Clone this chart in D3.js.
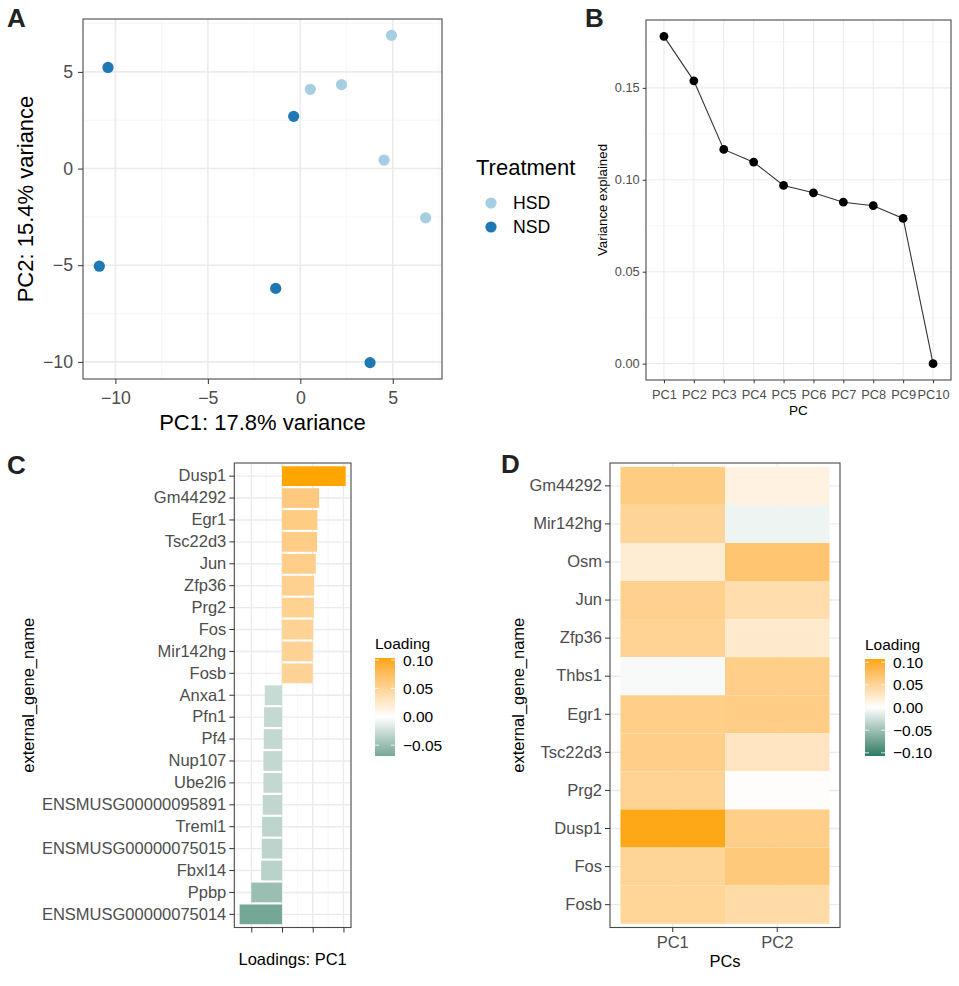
<!DOCTYPE html>
<html>
<head>
<meta charset="utf-8">
<script src="https://cdn.jsdelivr.net/npm/d3@7"></script>
<style>
  body { margin: 0; background: #ffffff; }
  svg { display: block; font-family: "Liberation Sans", Arial, Helvetica, sans-serif; }
</style>
</head>
<body>
<svg id="chart" width="959" height="986"></svg>
<script>
// ---------------- DATA ----------------
// Panel A: PCA scores
const pcaPC1 = [-10.40, 0.54, 2.23, 4.93, -0.36, 4.53, 6.78, -10.87, -1.33, 3.77];
const pcaPC2 = [5.23, 4.10, 4.34, 6.89, 2.70, 0.44, -2.55, -5.05, -6.20, -10.04];
const pcaTreatment = ["NSD", "HSD", "HSD", "HSD", "NSD", "HSD", "HSD", "NSD", "NSD", "NSD"];
const treatmentLevels = ["HSD", "NSD"];
const treatmentColors = ["#a6cee3", "#1f78b4"];
const pcaTicks = [-10, -5, 0, 5];

// Panel B: scree plot
const pcLabels = ["PC1", "PC2", "PC3", "PC4", "PC5", "PC6", "PC7", "PC8", "PC9", "PC10"];
const varianceExplained = [0.178, 0.1538, 0.1165, 0.1096, 0.0969, 0.0929, 0.0878, 0.0859, 0.079, 0.0];
const varianceTicks = [0, 0.05, 0.10, 0.15];

// Panel C: PC1 loadings
const loadingGenes = ["Dusp1", "Gm44292", "Egr1", "Tsc22d3", "Jun", "Zfp36", "Prg2", "Fos", "Mir142hg", "Fosb",
  "Anxa1", "Pfn1", "Pf4", "Nup107", "Ube2l6", "ENSMUSG00000095891", "Treml1", "ENSMUSG00000075015",
  "Fbxl14", "Ppbp", "ENSMUSG00000075014"];
const loadingPC1 = [0.1036, 0.0604, 0.0577, 0.0571, 0.0550, 0.0523, 0.0518, 0.0507, 0.0501, 0.0500,
  -0.0281, -0.0292, -0.0297, -0.0302, -0.0302, -0.0313, -0.0324, -0.0330, -0.0340, -0.0500, -0.0690];
const loadingTicks = [-0.05, 0, 0.05, 0.10];
const loadingLegendTicks = [-0.05, 0, 0.05, 0.10];

// Panel D: heatmap of loadings
const heatGenes = ["Gm44292", "Mir142hg", "Osm", "Jun", "Zfp36", "Thbs1", "Egr1", "Tsc22d3", "Prg2", "Dusp1", "Fos", "Fosb"];
const heatPCs = ["PC1", "PC2"];
const heatPC1 = [0.0604, 0.0501, 0.0210, 0.0550, 0.0523, -0.0040, 0.0577, 0.0571, 0.0518, 0.1036, 0.0507, 0.0500];
const heatPC2 = [0.0150, -0.0090, 0.0690, 0.0400, 0.0240, 0.0570, 0.0590, 0.0300, 0.0020, 0.0580, 0.0640, 0.0420];
const heatLimits = [-0.107, 0.107];
const heatLegendTicks = [-0.10, -0.05, 0, 0.05, 0.10];

// ---------------- STYLE ----------------
const GRID_MAJOR = "#ebebeb", GRID_MINOR = "#f5f5f5", BORDER = "#4a4a4a", TICK_TXT = "#4d4d4d";
const LOW = "#2a7c65", MID = "#ffffff", HIGH = "#ffa500";

const svg = d3.select("#chart");

function ext(arr, mult = 0.05) {
  const [a, b] = d3.extent(arr);
  const p = (b - a) * mult;
  return [a - p, b + p];
}
function minorsFor(majors, domain) {
  const step = majors[1] - majors[0];
  const out = [];
  const lo = Math.min(...domain), hi = Math.max(...domain);
  for (let v = majors[0] - step / 2; v <= majors[majors.length - 1] + step; v += step) {
    if (v > lo && v < hi) out.push(v);
  }
  return out;
}
function vLines(g, vals, fx, y0, y1, color, w) {
  g.selectAll(null).data(vals).join("line")
    .attr("x1", fx).attr("x2", fx).attr("y1", y0).attr("y2", y1)
    .attr("stroke", color).attr("stroke-width", w);
}
function hLines(g, vals, fy, x0, x1, color, w) {
  g.selectAll(null).data(vals).join("line")
    .attr("y1", fy).attr("y2", fy).attr("x1", x0).attr("x2", x1)
    .attr("stroke", color).attr("stroke-width", w);
}
function styleAxis(g, fs) {
  g.select(".domain").remove();
  g.selectAll(".tick line").attr("stroke", "#333").attr("stroke-width", 1);
  g.selectAll(".tick text").attr("fill", TICK_TXT).attr("font-size", fs)
    .attr("font-family", '"Liberation Sans", Arial, sans-serif');
}
function border(box) {
  svg.append("rect").attr("x", box.l).attr("y", box.t).attr("width", box.r - box.l).attr("height", box.b - box.t)
    .attr("fill", "none").attr("stroke", BORDER).attr("stroke-width", 1.1);
}
function letter(t, x, y) {
  svg.append("text").attr("x", x).attr("y", y).attr("font-size", 26).attr("font-weight", "bold")
    .attr("fill", "#222").text(t);
}
function title(t, x, y, fs, rotate) {
  const el = svg.append("text").attr("text-anchor", "middle").attr("font-size", fs).attr("fill", "#000").text(t);
  if (rotate) el.attr("transform", `translate(${x},${y}) rotate(-90)`);
  else el.attr("x", x).attr("y", y);
}
function divColor(lim) {
  const hi = d3.interpolateLab(MID, HIGH), lo = d3.interpolateLab(MID, LOW);
  return v => v >= 0 ? hi(Math.min(1, v / lim)) : lo(Math.min(1, -v / lim));
}
const fmt2 = d3.format(".2f");
function colorLegend(id, x, yTop, yBot, domain, colorFn, ticks) {
  const ls = d3.scaleLinear().domain(domain).range([yBot, yTop]);
  const grad = svg.append("defs").append("linearGradient").attr("id", id)
    .attr("x1", 0).attr("x2", 0).attr("y1", 1).attr("y2", 0);
  d3.range(0, 1.0001, 0.02).forEach(t => {
    grad.append("stop").attr("offset", t).attr("stop-color", colorFn(domain[0] + t * (domain[1] - domain[0])));
  });
  const w = 20;
  svg.append("rect").attr("x", x).attr("y", yTop).attr("width", w).attr("height", yBot - yTop)
    .attr("fill", `url(#${id})`);
  ticks.forEach(v => {
    const y = ls(v);
    svg.append("line").attr("x1", x).attr("x2", x + 4).attr("y1", y).attr("y2", y).attr("stroke", "#fff").attr("stroke-width", 0.8);
    svg.append("line").attr("x1", x + w - 4).attr("x2", x + w).attr("y1", y).attr("y2", y).attr("stroke", "#fff").attr("stroke-width", 0.8);
    svg.append("text").attr("x", x + w + 8).attr("y", y).attr("dy", "0.36em").attr("font-size", 15.5)
      .attr("fill", "#000").text(fmt2(v));
  });
  svg.append("text").attr("x", x).attr("y", yTop - 9).attr("font-size", 15.5).attr("fill", "#000").text("Loading");
}

// ---------------- PANEL A ----------------
{
  const box = { l: 83, r: 442, t: 19, b: 379 };
  const x = d3.scaleLinear().domain(ext(pcaPC1)).range([box.l, box.r]);
  const y = d3.scaleLinear().domain(ext(pcaPC2)).range([box.b, box.t]);
  const g = svg.append("g");
  vLines(g, minorsFor(pcaTicks, x.domain()), d => x(d), box.t, box.b, GRID_MINOR, 0.9);
  hLines(g, minorsFor(pcaTicks, y.domain()), d => y(d), box.l, box.r, GRID_MINOR, 0.9);
  vLines(g, pcaTicks, d => x(d), box.t, box.b, GRID_MAJOR, 1.6);
  hLines(g, pcaTicks, d => y(d), box.l, box.r, GRID_MAJOR, 1.6);
  const col = d3.scaleOrdinal().domain(treatmentLevels).range(treatmentColors);
  g.selectAll("circle").data(pcaPC1.map((v, i) => ({ x: v, y: pcaPC2[i], t: pcaTreatment[i] })))
    .join("circle").attr("cx", d => x(d.x)).attr("cy", d => y(d.y)).attr("r", 5.6).attr("fill", d => col(d.t));
  border(box);
  const ax = svg.append("g").attr("transform", `translate(0,${box.b})`)
    .call(d3.axisBottom(x).tickValues(pcaTicks).tickSize(5).tickPadding(7));
  styleAxis(ax, 17.7);
  const ay = svg.append("g").attr("transform", `translate(${box.l},0)`)
    .call(d3.axisLeft(y).tickValues(pcaTicks).tickSize(5).tickPadding(5));
  styleAxis(ay, 17.7);
  title("PC1: 17.8% variance", (box.l + box.r) / 2, 430, 22, false);
  title("PC2: 15.4% variance", 33, (box.t + box.b) / 2, 22, true);
  // legend
  svg.append("text").attr("x", 476).attr("y", 175).attr("font-size", 22).attr("fill", "#000").text("Treatment");
  treatmentLevels.forEach((lv, i) => {
    const cy = 203 + i * 24;
    svg.append("circle").attr("cx", 491).attr("cy", cy).attr("r", 5.6).attr("fill", col(lv));
    svg.append("text").attr("x", 513).attr("y", cy).attr("dy", "0.36em").attr("font-size", 17.7).attr("fill", "#000").text(lv);
  });
  letter("A", 7, 27);
}

// ---------------- PANEL B ----------------
{
  const box = { l: 646, r: 951, t: 20, b: 380 };
  const x = d3.scalePoint().domain(pcLabels).range([box.l, box.r]).padding(0.6);
  const y = d3.scaleLinear().domain(ext([0, ...varianceExplained])).range([box.b, box.t]);
  const g = svg.append("g");
  hLines(g, minorsFor(varianceTicks, y.domain()), d => y(d), box.l, box.r, GRID_MINOR, 0.7);
  hLines(g, varianceTicks, d => y(d), box.l, box.r, GRID_MAJOR, 1.1);
  vLines(g, pcLabels, d => x(d), box.t, box.b, GRID_MAJOR, 1.1);
  const line = d3.line().x((d, i) => x(pcLabels[i])).y(d => y(d));
  g.append("path").datum(varianceExplained).attr("d", line).attr("fill", "none").attr("stroke", "#333").attr("stroke-width", 1.1);
  g.selectAll("circle").data(varianceExplained).join("circle")
    .attr("cx", (d, i) => x(pcLabels[i])).attr("cy", d => y(d)).attr("r", 4.4).attr("fill", "#000");
  border(box);
  const ax = svg.append("g").attr("transform", `translate(0,${box.b})`)
    .call(d3.axisBottom(x).tickSize(3.3).tickPadding(6.5));
  styleAxis(ax, 12.8);
  const ay = svg.append("g").attr("transform", `translate(${box.l},0)`)
    .call(d3.axisLeft(y).tickValues(varianceTicks).tickFormat(fmt2).tickSize(3.3).tickPadding(3));
  styleAxis(ay, 12.8);
  title("PC", (box.l + box.r) / 2, 415, 13.5, false);
  title("Variance explained", 607, (box.t + box.b) / 2, 13.3, true);
  letter("B", 585, 27);
}

// ---------------- PANEL C ----------------
{
  const box = { l: 234.3, r: 351, t: 463, b: 927.5 };
  const y = d3.scaleBand().domain(loadingGenes).range([box.t, box.b]).paddingInner(0.1).paddingOuter(0.15);
  const x = d3.scaleLinear().domain(ext([0, ...loadingPC1])).range([box.l, box.r]);
  const lim = d3.max(loadingPC1, d => Math.abs(d));
  const color = divColor(lim);
  const g = svg.append("g");
  vLines(g, minorsFor(loadingTicks, x.domain()), d => x(d), box.t, box.b, GRID_MINOR, 0.8);
  vLines(g, loadingTicks, d => x(d), box.t, box.b, GRID_MAJOR, 1.4);
  hLines(g, loadingGenes, d => y(d) + y.bandwidth() / 2, box.l, box.r, GRID_MAJOR, 1.4);
  g.selectAll("rect").data(loadingPC1).join("rect")
    .attr("x", d => x(Math.min(0, d))).attr("width", d => Math.abs(x(d) - x(0)))
    .attr("y", (d, i) => y(loadingGenes[i])).attr("height", y.bandwidth())
    .attr("fill", d => color(d));
  border(box);
  const ax = svg.append("g").attr("transform", `translate(0,${box.b})`)
    .call(d3.axisBottom(x).tickValues(loadingTicks).tickFormat("").tickSize(5));
  styleAxis(ax, 16.5);
  const ay = svg.append("g").attr("transform", `translate(${box.l},0)`)
    .call(d3.axisLeft(y).tickSize(5).tickPadding(3));
  styleAxis(ay, 16.5);
  title("Loadings: PC1", (box.l + box.r) / 2, 965, 16.5, false);
  title("external_gene_name", 34, (box.t + box.b) / 2, 16.5, true);
  colorLegend("gradC", 375, 658, 756, d3.extent(loadingPC1), color, loadingLegendTicks);
  letter("C", 7, 474);
}

// ---------------- PANEL D ----------------
{
  const box = { l: 610, r: 840, t: 463, b: 927.5 };
  const x = d3.scaleBand().domain(heatPCs).range([box.l, box.r]).paddingInner(0).paddingOuter(0.1);
  const y = d3.scaleBand().domain(heatGenes).range([box.t, box.b]).paddingInner(0).paddingOuter(0.1);
  const color = divColor(heatLimits[1]);
  const g = svg.append("g");
  vLines(g, heatPCs, d => x(d) + x.bandwidth() / 2, box.t, box.b, GRID_MAJOR, 1.4);
  hLines(g, heatGenes, d => y(d) + y.bandwidth() / 2, box.l, box.r, GRID_MAJOR, 1.4);
  const cells = [];
  heatGenes.forEach((gName, i) => {
    cells.push({ g: gName, pc: "PC1", v: heatPC1[i] });
    cells.push({ g: gName, pc: "PC2", v: heatPC2[i] });
  });
  g.selectAll("rect").data(cells).join("rect")
    .attr("x", d => x(d.pc)).attr("y", d => y(d.g))
    .attr("width", x.bandwidth()).attr("height", y.bandwidth())
    .attr("fill", d => color(d.v));
  border(box);
  const ax = svg.append("g").attr("transform", `translate(0,${box.b})`)
    .call(d3.axisBottom(x).tickSize(4.5).tickPadding(4));
  styleAxis(ax, 16.5);
  const ay = svg.append("g").attr("transform", `translate(${box.l},0)`)
    .call(d3.axisLeft(y).tickSize(5).tickPadding(3));
  styleAxis(ay, 16.5);
  title("PCs", (box.l + box.r) / 2, 967, 16.5, false);
  title("external_gene_name", 524, (box.t + box.b) / 2, 16.5, true);
  colorLegend("gradD", 865, 659, 756, heatLimits, color, heatLegendTicks);
  letter("D", 501, 473);
}
</script>
</body>
</html>
